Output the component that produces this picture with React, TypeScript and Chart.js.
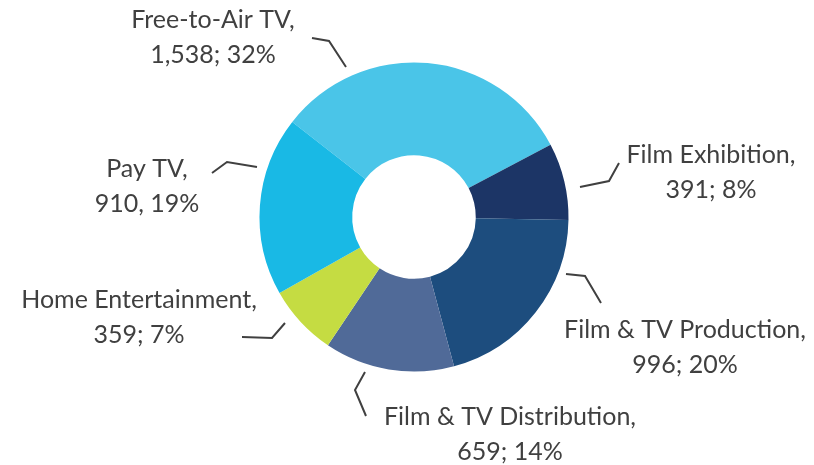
import React, { useEffect, useRef } from "react";
import { Chart, registerables } from "chart.js";

Chart.register(...registerables);

const categories = [
  "Free-to-Air TV",
  "Film Exhibition",
  "Film & TV Production",
  "Film & TV Distribution",
  "Home Entertainment",
  "Pay TV",
];
const values = [1538, 391, 996, 659, 359, 910];
const valueLabels = ["1,538; 32%", "391; 8%", "996; 20%", "659; 14%", "359; 7%", "910, 19%"];
const colors = ["#4AC5E8", "#1C3566", "#1D4D7E", "#506A98", "#C5DC42", "#19B9E5"];

// label anchor (center x, first baseline) relative to doughnut centre
const labelOffsets = [
  [-201, -189],
  [297, -54],
  [271, 121],
  [96, 208],
  [-275, 91],
  [-267, -40],
];
// leader line polylines relative to doughnut centre
const leaderLines = [
  [[-102, -179], [-85, -176], [-68, -150]],
  [[166, -30], [195, -36], [205, -54]],
  [[152, 57], [171, 59], [187, 86]],
  [[-49, 155], [-59, 173], [-48, 199]],
  [[-172, 120], [-142, 121], [-129, 106]],
  [[-202, -44], [-187, -55], [-157, -50]],
];

const labelPlugin = {
  id: "outLabels",
  afterDatasetsDraw(chart: any) {
    const ctx = chart.ctx;
    const meta = chart.getDatasetMeta(0);
    ctx.save();
    meta.data.forEach((arc: any, i: number) => {
      const cx = arc.x;
      const cy = arc.y;
      const pts = leaderLines[i];
      ctx.strokeStyle = "#404040";
      ctx.lineWidth = 2;
      ctx.lineJoin = "miter";
      ctx.beginPath();
      pts.forEach((p, j) => {
        if (j === 0) ctx.moveTo(cx + p[0], cy + p[1]);
        else ctx.lineTo(cx + p[0], cy + p[1]);
      });
      ctx.stroke();
      const [dx, dy] = labelOffsets[i];
      ctx.fillStyle = "#404040";
      ctx.font = "25px Lato";
      ctx.textAlign = "center";
      ctx.textBaseline = "alphabetic";
      ctx.fillText(categories[i] + ",", cx + dx, cy + dy);
      ctx.fillText(valueLabels[i], cx + dx, cy + dy + 35);
    });
    ctx.restore();
  },
};

export default function App() {
  const ref = useRef<HTMLCanvasElement | null>(null);
  useEffect(() => {
    if (!ref.current) return;
    const chart = new Chart(ref.current, {
      type: "doughnut",
      data: {
        labels: categories,
        datasets: [
          {
            data: values,
            backgroundColor: colors,
            borderWidth: 0,
            hoverOffset: 0,
          },
        ],
      },
      options: {
        responsive: false,
        animation: false,
        rotation: -52,
        cutout: "40%",
        layout: { padding: { left: 259.5, right: 245.5, top: 62.5, bottom: 93.5 } },
        plugins: { legend: { display: false }, tooltip: { enabled: false } },
      },
      plugins: [labelPlugin],
    });
    return () => chart.destroy();
  }, []);
  return (
    <div style={{ position: "fixed", left: 0, top: 0, width: 814, height: 465, background: "#fff" }}>
      <canvas ref={ref} width={814} height={465} />
    </div>
  );
}
